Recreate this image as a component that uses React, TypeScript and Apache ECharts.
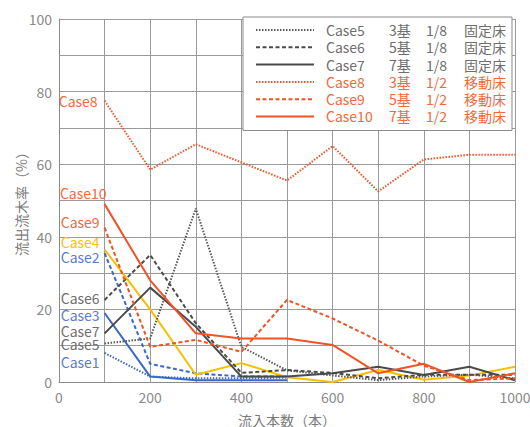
import React, { useEffect, useRef } from "react";
import * as echarts from "echarts";

const xValues = [100, 200, 300, 400, 500, 600, 700, 800, 900, 1000];

const case1 = [8, 1.5, 1, 1, 1.2, null, null, null, null, null];
const case2 = [35.5, 5, 2.4, 1.5, 1.5, null, null, null, null, null];
const case3 = [19, 1.5, 0.5, 0.5, 0.5, null, null, null, null, null];
const case4 = [36.5, 20, 2, 5.2, 1.3, 0, 3.3, 0.6, 1.8, 4.2];
const case5 = [10.6, 12, 47.8, 9.7, 3.2, 1.8, 0.5, 1.5, 2, 1];
const case6 = [22.6, 35, 16.2, 2.5, 3.3, 2.5, 1, 2, 2, 2];
const case7 = [13.4, 26, 15.2, 1.5, 1.5, 2.4, 4.2, 1.9, 4.2, 0.5];
const case8 = [77.5, 58.5, 65.5, null, 55.5, 65, 52.5, 61.3, 62.6, 62.6];
const case9 = [42.5, 9.7, 11.6, 8.3, 22.6, 17.5, 11.4, 4.5, 0.5, 1];
const case10 = [49, 28, 13.4, 12, 12, 10.2, 2.4, 5, 0, 2.4];

const legendCases = ["Case5", "Case6", "Case7", "Case8", "Case9", "Case10"];
const legendBase = ["3基", "5基", "7基", "3基", "5基", "7基"];
const legendRatio = ["1/8", "1/8", "1/8", "1/2", "1/2", "1/2"];
const legendBed = ["固定床", "固定床", "固定床", "移動床", "移動床", "移動床"];

const FONT = "'Noto Sans CJK JP', 'Noto Sans', sans-serif";
const GREY = "#4a4a4a";
const GREY_TEXT = "#6e6e6e";
const ORANGE = "#ef5326";
const ORANGE_TEXT = "#f06a3c";
const BLUE = "#3a68c6";
const BLUE_TEXT = "#5a7ccc";
const YELLOW = "#f5c000";
const YELLOW_TEXT = "#f4c20d";

const DOTTED: number[] = [1.5, 1.5];
const DASHED: number[] = [4, 2.5];

type S = {
  name: string;
  values: (number | null)[];
  color: string;
  textColor: string;
  type: "solid" | number[];
  labelOffset: [number, number];
};

const seriesDefs: S[] = [
  { name: "Case1", values: case1, color: BLUE, textColor: BLUE_TEXT, type: DOTTED, labelOffset: [0, 9] },
  { name: "Case2", values: case2, color: BLUE, textColor: BLUE_TEXT, type: DASHED, labelOffset: [0, 4] },
  { name: "Case3", values: case3, color: BLUE, textColor: BLUE_TEXT, type: "solid", labelOffset: [0, 2] },
  { name: "Case4", values: case4, color: YELLOW, textColor: YELLOW_TEXT, type: "solid", labelOffset: [0, -8] },
  { name: "Case5", values: case5, color: "#5a5a5a", textColor: GREY_TEXT, type: DOTTED, labelOffset: [0, 0] },
  { name: "Case6", values: case6, color: GREY, textColor: GREY_TEXT, type: DASHED, labelOffset: [0, -2] },
  { name: "Case7", values: case7, color: GREY, textColor: GREY_TEXT, type: "solid", labelOffset: [0, -2] },
  { name: "Case8", values: case8, color: ORANGE, textColor: ORANGE_TEXT, type: DOTTED, labelOffset: [-2, 0] },
  { name: "Case9", values: case9, color: ORANGE, textColor: ORANGE_TEXT, type: DASHED, labelOffset: [0, -6] },
  { name: "Case10", values: case10, color: ORANGE, textColor: ORANGE_TEXT, type: "solid", labelOffset: [7, -11] },
];

export default function App() {
  const ref = useRef<HTMLDivElement>(null);

  useEffect(() => {
    document.body.style.margin = "0";
    if (!ref.current) return;
    const chart = echarts.init(ref.current, undefined, { renderer: "svg" });

    const series = seriesDefs.map((s) => ({
      name: s.name,
      type: "line",
      symbol: "none",
      connectNulls: true,
      color: s.color,
      lineStyle: { color: s.color, width: 2, type: s.type },
      data: s.values.map((v, i) => [xValues[i], v]),
      markPoint: {
        symbol: "circle",
        symbolSize: 0,
        silent: true,
        data: [
          {
            coord: [xValues[0], s.values[0]],
            label: {
              show: true,
              position: "left",
              distance: 5,
              offset: s.labelOffset,
              formatter: s.name,
              color: s.textColor,
              fontSize: 14,
              fontFamily: FONT,
            },
          },
        ],
      },
      z: 2,
    }));

    const legendData = legendCases.map((name, i) => ({
      name,
      textStyle: { color: i < 3 ? GREY_TEXT : ORANGE_TEXT },
    }));

    chart.setOption({
      animation: false,
      backgroundColor: "#ffffff",
      grid: {
        left: 59,
        right: 15,
        top: 19,
        bottom: 45,
        containLabel: false,
        outerBoundsMode: "none",
      },
      legend: {
        orient: "vertical",
        left: 243,
        top: 17,
        data: legendData,
        itemWidth: 58,
        itemHeight: 14,
        itemGap: 3.3,
        padding: [6, 6, 7, 12],
        backgroundColor: "#ffffff",
        borderColor: "#8a8a8a",
        borderWidth: 1,
        borderRadius: 0,
        itemStyle: { opacity: 0 },
        textStyle: {
          fontSize: 14,
          fontFamily: FONT,
          rich: {
            a: { width: 63, padding: [0, 0, 0, 7], fontSize: 14, fontFamily: FONT },
            b: { width: 37, fontSize: 14, fontFamily: FONT },
            c: { width: 38, fontSize: 14, fontFamily: FONT },
            d: { fontSize: 14, fontFamily: FONT },
          },
        },
        formatter: (name: string) => {
          const i = legendCases.indexOf(name);
          return `{a|${name}}{b|${legendBase[i]}}{c|${legendRatio[i]}}{d|${legendBed[i]}}`;
        },
      },
      xAxis: {
        type: "value",
        min: 0,
        max: 1000,
        interval: 100,
        name: "流入本数（本）",
        nameLocation: "middle",
        nameGap: 30,
        nameMoveOverlap: false,
        nameTextStyle: { color: "#7a7a7a", fontSize: 14, lineHeight: 16, fontFamily: FONT },
        axisLine: { show: true, lineStyle: { color: "#8a8a8a", width: 1 } },
        axisTick: { show: false },
        axisLabel: {
          color: "#8a8a8a",
          fontSize: 14,
          fontFamily: FONT,
          margin: 8,
          formatter: (v: number) => (v % 200 === 0 ? String(v) : ""),
        },
        splitLine: { show: true, lineStyle: { color: "#9a9a9a", width: 1 } },
      },
      yAxis: {
        type: "value",
        min: 0,
        max: 100,
        interval: 10,
        name: "流出流木率（%）",
        nameLocation: "middle",
        nameRotate: 90,
        nameGap: 31,
        nameMoveOverlap: false,
        nameTextStyle: { color: "#7a7a7a", fontSize: 14, fontFamily: FONT },
        axisLine: { show: true, lineStyle: { color: "#8a8a8a", width: 1 } },
        axisTick: { show: false },
        axisLabel: {
          color: "#8a8a8a",
          fontSize: 14,
          fontFamily: FONT,
          margin: 7,
          formatter: (v: number) => (v % 20 === 0 ? String(v) : ""),
        },
        splitLine: { show: true, lineStyle: { color: "#9a9a9a", width: 1 } },
      },
      series,
    });

    return () => chart.dispose();
  }, []);

  return <div ref={ref} style={{ width: 530, height: 427 }} />;
}
